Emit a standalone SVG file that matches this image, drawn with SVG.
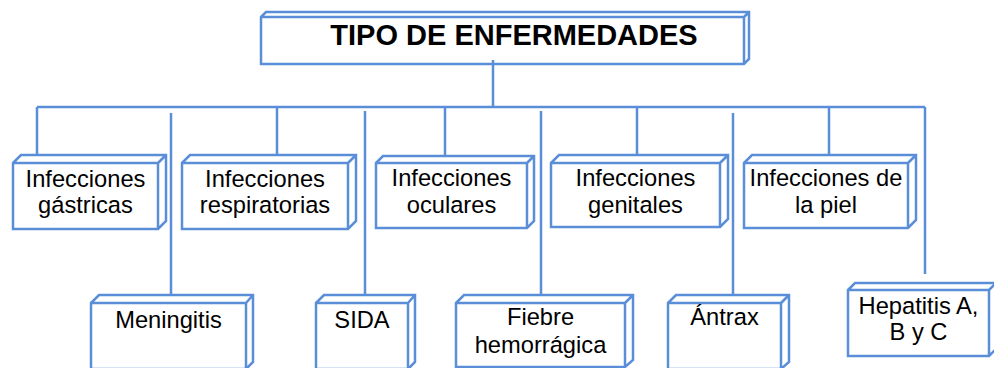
<svg xmlns="http://www.w3.org/2000/svg" width="994" height="368" viewBox="0 0 994 368">
<style>
.bx{fill:#fff;stroke:#5B8ED8;stroke-width:2.5;stroke-linejoin:miter}
.ln{stroke:#5B8ED8;stroke-width:2.5;fill:none}
.t{font-family:"Liberation Sans",Arial,sans-serif;font-size:23.7px;fill:#000;text-anchor:middle}
.h{font-family:"Liberation Sans",Arial,sans-serif;font-size:29px;font-weight:bold;fill:#000;text-anchor:middle}
</style>
<rect width="994" height="368" fill="#fff"/>
<g id="n-title">
<path class="bx" d="M261,17 L266,12 L749,12 L749,59 L744,64 L261,64 Z M261,17 L744,17 L744,64 M744,17 L749,12"/>
<text class="h" x="514" y="45">TIPO DE ENFERMEDADES</text>
</g>
<g id="connectors">
<line class="ln" x1="493" y1="60" x2="493" y2="107"/>
<line class="ln" x1="37" y1="107" x2="925" y2="107"/>
<line class="ln" x1="37" y1="107" x2="37" y2="163"/>
<line class="ln" x1="277" y1="107" x2="277" y2="163"/>
<line class="ln" x1="445" y1="107" x2="445" y2="163"/>
<line class="ln" x1="637" y1="107" x2="637" y2="163"/>
<line class="ln" x1="829" y1="107" x2="829" y2="163"/>
<line class="ln" x1="925" y1="107" x2="925" y2="274"/>
<line class="ln" x1="171" y1="113" x2="171" y2="303"/>
<line class="ln" x1="365" y1="111" x2="365" y2="300"/>
<line class="ln" x1="541" y1="111" x2="541" y2="303"/>
<line class="ln" x1="733" y1="113" x2="733" y2="303"/>
</g>
<g id="n-gastricas">
<path class="bx" d="M13,163 L21,155 L166,155 L166,221 L158,229 L13,229 Z M13,163 L158,163 L158,229 M158,163 L166,155"/>
<text class="t" x="85.5" y="187">Infecciones</text>
<text class="t" x="85.5" y="213">gástricas</text>
</g>
<g id="n-respiratorias">
<path class="bx" d="M182,163 L190,155 L356,155 L356,221 L348,229 L182,229 Z M182,163 L348,163 L348,229 M348,163 L356,155"/>
<text class="t" x="265" y="187">Infecciones</text>
<text class="t" x="265" y="213">respiratorias</text>
</g>
<g id="n-oculares">
<path class="bx" d="M376,163 L383,156 L534,156 L534,221 L527,228 L376,228 Z M376,163 L527,163 L527,228 M527,163 L534,156"/>
<text class="t" x="451.5" y="186">Infecciones</text>
<text class="t" x="451.5" y="213">oculares</text>
</g>
<g id="n-genitales">
<path class="bx" d="M551,163 L559,155 L728,155 L728,219 L720,227 L551,227 Z M551,163 L720,163 L720,227 M720,163 L728,155"/>
<text class="t" x="635.5" y="186">Infecciones</text>
<text class="t" x="635.5" y="213">genitales</text>
</g>
<g id="n-piel">
<path class="bx" d="M744,163 L752,155 L916,155 L916,220 L908,228 L744,228 Z M744,163 L908,163 L908,228 M908,163 L916,155"/>
<text class="t" x="826" y="186">Infecciones de</text>
<text class="t" x="826" y="213">la piel</text>
</g>
<g id="n-meningitis">
<path class="bx" d="M91,303 L99,295 L253,295 L253,362 L246,369 L91,369 Z M91,303 L246,303 L246,369 M246,303 L253,295"/>
<text class="t" x="168.5" y="328">Meningitis</text>
</g>
<g id="n-sida">
<path class="bx" d="M316,303 L324,295 L415,295 L415,362 L408,369 L316,369 Z M316,303 L408,303 L408,369 M408,303 L415,295"/>
<text class="t" x="362" y="328">SIDA</text>
</g>
<g id="n-fiebre">
<path class="bx" d="M456,303 L464,295 L633,295 L633,360 L625,367 L456,367 Z M456,303 L625,303 L625,367 M625,303 L633,295"/>
<text class="t" x="540.5" y="325">Fiebre</text>
<text class="t" x="540.5" y="353">hemorrágica</text>
</g>
<g id="n-antrax">
<path class="bx" d="M668,303 L676,295 L789,295 L789,362 L781,369 L668,369 Z M668,303 L781,303 L781,369 M781,303 L789,295"/>
<text class="t" x="724.5" y="325">Ántrax</text>
</g>
<g id="n-hepatitis">
<path class="bx" d="M848,290 L855,283 L996,283 L996,349 L989,356 L848,356 Z M848,290 L989,290 L989,356 M989,290 L996,283"/>
<text class="t" x="918.5" y="314">Hepatitis A,</text>
<text class="t" x="918.5" y="340">B y C</text>
</g>
</svg>
